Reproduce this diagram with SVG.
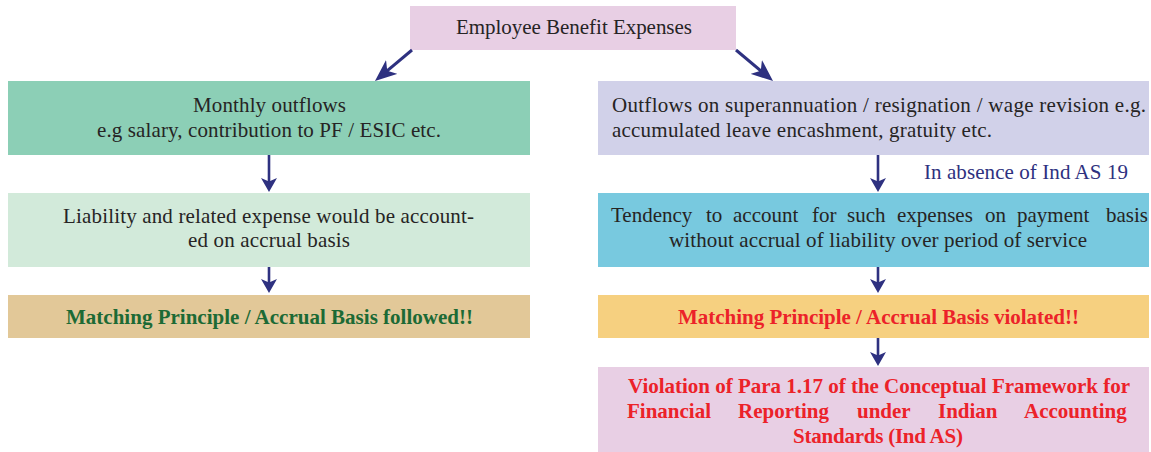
<svg xmlns="http://www.w3.org/2000/svg" width="1151" height="452" viewBox="0 0 1151 452">
<style>
text{font-family:"Liberation Serif","Times New Roman",serif;font-size:21px;fill:#262424}
.b{font-weight:700}
.g{fill:#1c6a35}
.r{fill:#ec2229}
.n{fill:#2e3180}
.c line{stroke:#2e3180;stroke-width:2.6;fill:none}
.c line.d{stroke-width:3}
</style>
<defs>
<marker id="ah" viewBox="0 0 14 16" refX="8" refY="8" markerWidth="14" markerHeight="16" markerUnits="userSpaceOnUse" orient="auto">
<path d="M0,0 L14,8 L0,16 L3.5,8 z" fill="#2e3180"/>
</marker>
<marker id="ahl" viewBox="0 0 22 18" refX="14" refY="9" markerWidth="22" markerHeight="18" markerUnits="userSpaceOnUse" orient="auto">
<path d="M0,0 L22,9 L0,18 L6,9 z" fill="#2e3180"/>
</marker>
</defs>
<g id="n-top">
<rect x="410" y="6" width="326" height="44" fill="#e8cfe4"/>
<text x="456" y="34" textLength="236">Employee Benefit Expenses</text>
</g>
<g id="n-monthly">
<rect x="8" y="81" width="522" height="74" fill="#8ccfb6"/>
<text x="193" y="112" textLength="153">Monthly outflows</text>
<text x="97" y="137" textLength="344">e.g salary, contribution to PF / ESIC etc.</text>
</g>
<g id="n-liability">
<rect x="8" y="193" width="522" height="74" fill="#d2eada"/>
<text x="63" y="223" textLength="411">Liability and related expense would be account-</text>
<text x="188" y="247" textLength="162">ed on accrual basis</text>
</g>
<g id="n-followed">
<rect x="8" y="295" width="522" height="43" fill="#e2c898"/>
<text class="b g" x="66" y="324" textLength="407">Matching Principle / Accrual Basis followed!!</text>
</g>
<g id="n-outflows">
<rect x="598" y="81" width="551" height="74" fill="#d1d1e9"/>
<text x="612" y="112" textLength="534">Outflows on superannuation / resignation / wage revision e.g.</text>
<text x="612" y="137" textLength="380">accumulated leave encashment, gratuity etc.</text>
</g>
<g id="n-tendency">
<rect x="598" y="193" width="551" height="74" fill="#78c9df"/>
<text y="222"><tspan x="611">Tendency</tspan><tspan x="706">to</tspan><tspan x="733">account</tspan><tspan x="812">for</tspan><tspan x="847">such</tspan><tspan x="897">expenses</tspan><tspan x="985">on</tspan><tspan x="1017">payment</tspan><tspan x="1106">basis</tspan></text>
<text x="669" y="247" textLength="418">without accrual of liability over period of service</text>
</g>
<g id="n-violated">
<rect x="598" y="295" width="551" height="43" fill="#f6d080"/>
<text class="b r" x="678" y="324" textLength="401">Matching Principle / Accrual Basis violated!!</text>
</g>
<g id="n-violation">
<rect x="598" y="367" width="551" height="85" fill="#e8cfe4"/>
<text class="b r" x="628" y="393" textLength="502">Violation of Para 1.17 of the Conceptual Framework for</text>
<text class="b r" y="418"><tspan x="627">Financial</tspan><tspan x="738">Reporting</tspan><tspan x="857">under</tspan><tspan x="938">Indian</tspan><tspan x="1024">Accounting</tspan></text>
<text class="b r" x="793" y="443" textLength="170">Standards (Ind AS)</text>
</g>
<g id="connectors" class="c">
<line class="d" x1="412" y1="50" x2="381.1" y2="75.9" marker-end="url(#ahl)"/>
<line class="d" x1="736" y1="50" x2="766.9" y2="75.9" marker-end="url(#ahl)"/>
<line x1="269" y1="155" x2="269" y2="186" marker-end="url(#ah)"/>
<line x1="269" y1="267" x2="269" y2="287" marker-end="url(#ah)"/>
<line x1="878" y1="155" x2="878" y2="186" marker-end="url(#ah)"/>
<line x1="878" y1="267" x2="878" y2="287" marker-end="url(#ah)"/>
<line x1="878" y1="338" x2="878" y2="360" marker-end="url(#ah)"/>
<text class="n" x="924" y="179" textLength="204">In absence of Ind AS 19</text>
</g>
</svg>
